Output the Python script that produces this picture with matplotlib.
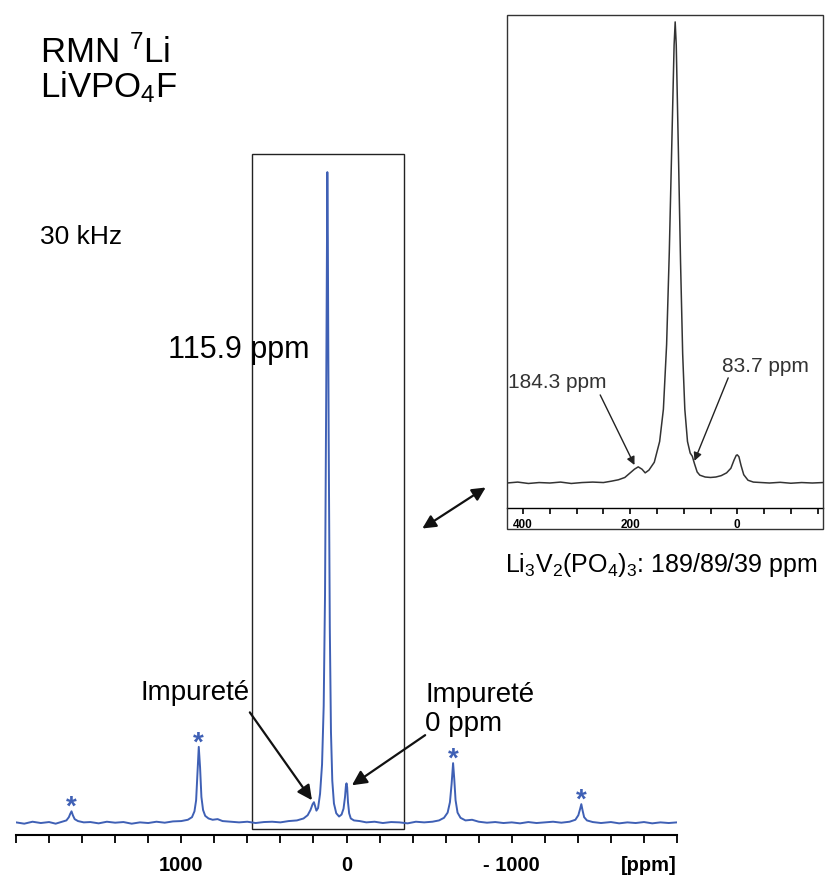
import numpy as np
import matplotlib.pyplot as plt
from matplotlib.patches import Rectangle, FancyArrowPatch

plt.rcParams['font.family'] = ['Liberation Sans', 'DejaVu Sans']
plt.rcParams['mathtext.default'] = 'regular'

# 7Li MAS spectrum (ppm, intensity in % of main peak)
main_ppm = [2000, 1950, 1900, 1850, 1800, 1760, 1720, 1695, 1680, 1672, 1664, 1656, 1645, 1625,
            1590, 1550, 1500, 1450, 1400, 1350, 1300, 1250, 1200, 1150, 1100, 1050, 1000, 960,
            935, 920, 910, 902, 894, 886, 878, 868, 855, 835, 810, 780, 750, 700, 650, 600, 550,
            500, 450, 400, 350, 300, 260, 235, 218, 205, 197, 190, 182, 172, 160, 148, 138, 130,
            123, 118, 116, 113, 108, 101, 94, 86, 76, 62, 45, 30, 18, 9, 4, 0, -4, -9, -16, -26,
            -45, -80, -120, -170, -220, -270, -320, -370, -420, -470, -520, -560, -590, -612,
            -626, -636, -645, -652, -660, -672, -690, -720, -760, -800, -850, -900, -950, -1000,
            -1050, -1100, -1150, -1200, -1250, -1300, -1350, -1385, -1403, -1414, -1421, -1428,
            -1438, -1455, -1490, -1540, -1600, -1650, -1700, -1750, -1800, -1850, -1900, -1950,
            -2000]
main_int = [0.1, -0.1, 0.2, 0.0, 0.15, -0.1, 0.2, 0.4, 0.9, 1.4, 1.8, 1.2, 0.6, 0.3,
            0.1, 0.15, -0.05, 0.2, 0.05, 0.15, -0.1, 0.1, 0.0, 0.2, 0.05, 0.25, 0.3, 0.5,
            0.9, 1.8, 3.5, 7.5, 11.7, 8.5, 4.0, 2.0, 1.1, 0.7, 0.5, 0.6, 0.3, 0.2, 0.1, 0.2, 0.0,
            0.15, 0.2, 0.1, 0.3, 0.4, 0.7, 1.2, 2.0, 2.9, 3.2, 2.6, 1.9, 2.3, 4.5, 9, 18, 35,
            65, 92, 100, 90, 60, 30, 14, 6.5, 3.0, 1.5, 1.0, 1.3, 2.2, 4.0, 5.6, 6.1, 5.5, 3.2, 1.5, 0.7,
            0.4, 0.3, 0.1, 0.2, 0.0, 0.15, 0.1, -0.05, 0.2, 0.1, 0.2, 0.4, 0.8, 1.6,
            3.2, 6.0, 9.2, 6.8, 3.5, 1.6, 0.8, 0.4, 0.5, 0.2, 0.05, 0.15, 0.0, 0.1,
            -0.05, 0.15, 0.0, 0.1, 0.2, 0.05, 0.2, 0.5, 1.2, 2.2, 2.9, 2.0,
            0.9, 0.4, 0.15, 0.0, 0.15, -0.05, 0.1, 0.0, 0.15, -0.05, 0.1, 0.0,
            0.1]

# spinning sidebands (marked with *)
sideband_ppm = [1664, 894, -645, -1421]

# zoom on the central region
zoom_ppm = [430, 410, 390, 370, 350, 330, 310, 290, 270, 250, 235, 222, 210, 200, 192, 185, 178,
            172, 165, 155, 145, 138, 132, 127, 122, 118, 116, 114, 110, 106, 102, 98, 93, 88, 84,
            80, 75, 70, 60, 50, 40, 30, 20, 12, 6, 2, 0, -3, -7, -12, -20, -30, -45, -60, -80,
            -100, -120, -140, -160]
zoom_int = [0.0, 0.2, -0.1, 0.1, 0.0, 0.2, -0.1, 0.1, 0.2, 0.1, 0.4, 0.7, 1.2, 2.2, 3.0, 3.5, 3.0,
            2.2, 2.8, 4.5, 9, 16, 30, 50, 75, 95, 100, 95, 72, 48, 28, 16, 9, 6.5, 5.8,
            4.2, 2.4, 1.7, 1.3, 1.2, 1.3, 1.6, 2.2, 3.2, 5.0, 6.0, 6.1, 5.7, 3.8, 1.8, 0.6, 0.2, 0.1, 0.0, 0.15,
            -0.05, 0.1, 0.0, 0.1]

blue = '#3f60b5'

fig = plt.figure(figsize=(8.33, 8.76), dpi=100)
ax = fig.add_axes([16/833, 41/876, 661/833, 685/876])
ax.plot(main_ppm, main_int, color=blue, lw=1.4)
ax.set_xlim(2000, -2000)
ax.set_ylim(-1.84, 103.4)
for s in ['left', 'right', 'top']:
    ax.spines[s].set_visible(False)
ax.spines['bottom'].set_linewidth(1.5)
ax.set_yticks([])
ax.set_xticks([1000, 0, -1000])
ax.set_xticklabels(['1000', '0', '- 1000'], fontsize=14.5, fontweight='bold')
ax.set_xticks(np.arange(-2000, 2001, 200), minor=True)
ax.tick_params(axis='x', which='both', direction='out', length=6, width=1.3, pad=9)
ax.text(1.0, -0.044, '[ppm]', transform=ax.transAxes, ha='right', va='center',
        fontsize=14.5, fontweight='bold')

# stars on the spinning sidebands
for p in sideband_ppm:
    h = np.interp(-p, -np.array(main_ppm), main_int)
    ax.annotate('*', xy=(p, h), xytext=(0, -7), textcoords='offset points',
                ha='center', va='bottom', color=blue, fontsize=20, fontweight='bold')

# box around the central line
ax.add_patch(Rectangle((573, -0.9), -921, 103.7, fill=False, lw=1.0, ec='#222222', clip_on=False))

ax.text(1082, 72.7, '115.9 ppm', fontsize=22, va='center', ha='left')
ax.text(918, 20, 'Impureté', fontsize=20, va='center', ha='center')
ax.text(-476, 17.4, 'Impureté\n0 ppm', fontsize=20, va='center', ha='left', linespacing=1.15)
arrow = dict(arrowstyle='-|>', lw=1.6, color='#111111', mutation_scale=22, shrinkA=0, shrinkB=0)
ax.annotate('', xy=(209, 3.5), xytext=(585, 17), arrowprops=arrow)
ax.annotate('', xy=(-33, 5.8), xytext=(-476, 13.5), arrowprops=arrow)

# titles
fig.text(40/833, 1 - 53/876, r'RMN $^{7}$Li', fontsize=25, va='center', ha='left')
fig.text(40/833, 1 - 87/876, r'LiVPO$_{4}$F', fontsize=25, va='center', ha='left')
fig.text(40/833, 1 - 237/876, '30 kHz', fontsize=19, va='center', ha='left')

# double headed arrow between main plot and inset
fig.add_artist(FancyArrowPatch((420/833, 1 - 530/876), (488/833, 1 - 486/876),
                               transform=fig.transFigure, arrowstyle='<|-|>', lw=1.6,
                               color='#111111', mutation_scale=20))

# inset
axi = fig.add_axes([507/833, (876 - 508)/876, 316/833, 493/876])
axi.plot(zoom_ppm, zoom_int, color='#333333', lw=1.1)
axi.set_xlim(430, -160)
axi.set_ylim(-5.42, 101.5)
for s in ['left', 'right', 'top']:
    axi.spines[s].set_visible(False)
axi.spines['bottom'].set_linewidth(1.0)
axi.set_yticks([])
axi.set_xticks([400, 200, 0])
axi.set_xticklabels(['400', '200', '0'], fontsize=8.5, fontweight='bold')
axi.set_xticks(np.arange(-150, 401, 50), minor=True)
axi.tick_params(axis='x', which='both', direction='out', length=4, width=1.2, pad=4)
fig.add_artist(Rectangle((507/833, (876 - 529)/876), 316/833, 514/876, fill=False,
                         lw=1.0, ec='#333333', transform=fig.transFigure))

axi.text(428, 21.7, '184.3 ppm', fontsize=15, va='center', ha='left', color='#333333')
axi.text(28, 25.2, '83.7 ppm', fontsize=15, va='center', ha='left', color='#333333')
arrow_s = dict(arrowstyle='-|>', lw=1.0, color='#222222', mutation_scale=12, shrinkA=0, shrinkB=0)
axi.annotate('', xy=(192, 3.9), xytext=(256, 19.1), arrowprops=arrow_s)
axi.annotate('', xy=(80, 4.8), xytext=(17, 22.8), arrowprops=arrow_s)

fig.text(505/833, 1 - 565/876, r'Li$_{3}$V$_{2}$(PO$_{4}$)$_{3}$: 189/89/39 ppm',
         fontsize=18, va='center', ha='left')

fig.savefig('out.png', dpi=100)
